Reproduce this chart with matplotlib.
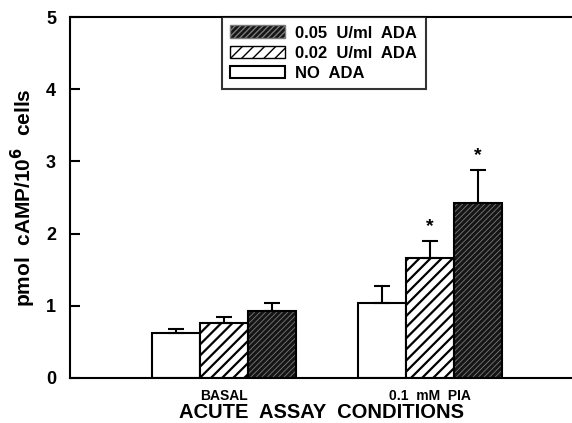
import numpy as np
import matplotlib.pyplot as plt
from matplotlib.patches import Patch

plt.rcParams['font.family'] = ['Liberation Sans', 'DejaVu Sans']
plt.rcParams['font.weight'] = 'bold'

# data
conditions = ['BASAL', '0.1  mM  PIA']
no_ada = [0.62, 1.04]
no_ada_err = [0.06, 0.23]
ada_002 = [0.76, 1.66]
ada_002_err = [0.08, 0.24]
ada_005 = [0.93, 2.42]
ada_005_err = [0.11, 0.46]
stars_002 = [False, True]
stars_005 = [False, True]

x = np.arange(len(conditions))
w = 0.233
dark = '#151515'
dark_hatch = '#7a7a7a'

fig = plt.figure(figsize=(5.72, 4.23), dpi=100)
ax = fig.add_axes([0.1224, 0.1064, 0.8776, 0.8534])

err_kw = dict(ecolor='black', elinewidth=1.5, capsize=6, capthick=1.5)

# no ADA: plain white bars
ax.bar(x - w, no_ada, w, yerr=[np.zeros(2), no_ada_err], color='white',
       edgecolor='black', linewidth=1.5, error_kw=err_kw, zorder=2)

# 0.02 U/ml: white with bold diagonal hatch
with plt.rc_context({'hatch.linewidth': 1.6}):
    ax.bar(x, ada_002, w, yerr=[np.zeros(2), ada_002_err], color='white',
           edgecolor='black', hatch='///', linewidth=1.5, error_kw=err_kw, zorder=2)
    h002 = Patch(facecolor='white', edgecolor='black', hatch='///', label='0.02  U/ml  ADA')

# 0.05 U/ml: dark fill with fine light hatch, outline drawn on top
with plt.rc_context({'hatch.linewidth': 0.6}):
    ax.bar(x + w, ada_005, w, color=dark, edgecolor=dark_hatch,
           hatch='//////', linewidth=0, zorder=2)
    h005 = Patch(facecolor=dark, edgecolor=dark_hatch, hatch='//////', label='0.05  U/ml  ADA')
ax.bar(x + w, ada_005, w, yerr=[np.zeros(2), ada_005_err], fill=False,
       edgecolor='black', linewidth=1.5, error_kw=err_kw, zorder=3)

# significance markers
for i in range(len(conditions)):
    if stars_002[i]:
        ax.text(x[i], ada_002[i] + ada_002_err[i] + 0.2, '*', ha='center',
                va='center', fontsize=14, fontweight='bold')
    if stars_005[i]:
        ax.text(x[i] + w, ada_005[i] + ada_005_err[i] + 0.2, '*', ha='center',
                va='center', fontsize=14, fontweight='bold')

ax.set_xlim(-0.748, 1.69)
ax.set_ylim(0, 5)
ax.set_yticks([0, 1, 2, 3, 4, 5])
ax.set_xticks(x)
ax.set_xticklabels(conditions, fontsize=10)
ax.tick_params(axis='x', length=0, pad=8)
ax.tick_params(axis='y', direction='in', length=7, width=1.5, labelsize=13, pad=10)
ax.spines['right'].set_visible(False)
for s in ['left', 'top', 'bottom']:
    ax.spines[s].set_linewidth(1.5)

ax.set_ylabel('pmol  cAMP/10$^{\\mathbf{6}}$  cells', fontsize=15, fontweight='bold', labelpad=6)
ax.set_xlabel('ACUTE  ASSAY  CONDITIONS', fontsize=14.5, fontweight='bold', labelpad=0)

handles = [
    h005,
    h002,
    Patch(facecolor='white', edgecolor='black', linewidth=1.5, label='NO  ADA'),
]
leg = ax.legend(handles=handles, loc='upper left', bbox_to_anchor=(0.303, 1.0),
                fontsize=12, frameon=True, fancybox=False, edgecolor='black',
                handlelength=3.3, handleheight=0.8, borderpad=0.5, labelspacing=0.3,
                handletextpad=0.6, borderaxespad=0)
leg.get_frame().set_linewidth(1.5)

fig.savefig('out.png', dpi=100)
